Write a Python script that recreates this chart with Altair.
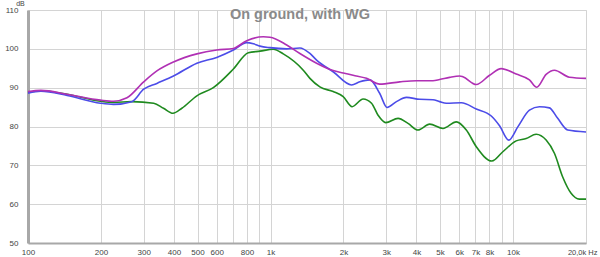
import altair as alt
import pandas as pd

# Magenta series
freq_m = [100, 113, 145, 199, 225, 256, 300, 340, 398, 497, 600, 703, 798, 934, 995,
          1166, 1322, 1549, 1813, 1994, 2191, 2489, 2822, 3412, 3996, 4677, 4983,
          5479, 6025, 6216, 7057, 8007, 8943, 10308, 11691, 12530, 13697, 14818,
          17083, 20000]
db_m = [89.0, 89.3, 88.3, 86.8, 86.5, 87.4, 91.5, 94.3, 96.6, 98.7, 99.7, 100.1, 102.1,
        103.1, 103.0, 101.0, 98.8, 96.3, 94.4, 93.8, 93.2, 92.4, 90.9, 91.5, 91.8,
        91.8, 92.1, 92.65, 93.0, 92.8, 90.8, 93.2, 94.9, 93.5, 92.0, 90.1, 93.4,
        94.5, 92.7, 92.4]

# Blue series
freq_b = [100, 113, 145, 199, 225, 268, 300, 340, 398, 497, 600, 703, 798, 850, 905,
          995, 1166, 1322, 1454, 1549, 1813, 2159, 2335, 2568, 2822, 3025, 3306,
          3636, 4123, 4677, 4983, 5310, 6122, 7057, 8137, 8800, 9610, 10466, 11691,
          12853, 14133, 15289, 16810, 20000]
db_b = [88.6, 89.1, 88.0, 86.0, 85.7, 86.4, 89.6, 91.1, 93.0, 96.3, 97.8, 99.7, 101.6,
        101.3, 100.7, 100.3, 100.0, 100.2, 98.8, 97.1, 94.1, 90.7, 91.5, 92.0, 88.5,
        84.9, 86.4, 87.5, 87.0, 86.9, 86.4, 86.0, 86.1, 84.5, 82.7, 80.2, 76.5,
        79.9, 84.2, 85.1, 84.8, 82.1, 79.1, 78.6]

# Green series
freq_g = [100, 113, 145, 199, 225, 268, 330, 362, 396, 431, 497, 581, 703, 810, 905,
          1027, 1129, 1365, 1454, 1598, 1813, 1994, 2171, 2409, 2610, 2777, 2987,
          3357, 3690, 4057, 4533, 5142, 5840, 6419, 7057, 8184, 9080, 10308, 11331,
          12460, 13697, 14818, 16031, 17360, 18777, 20000]
db_g = [88.8, 89.2, 88.3, 86.5, 86.2, 86.4, 86.0, 84.7, 83.4, 84.7, 87.9, 90.0, 94.8,
        99.0, 99.4, 99.9, 98.7, 94.5, 92.4, 90.2, 89.0, 87.7, 85.1, 87.1, 86.0,
        82.9, 81.0, 82.1, 80.8, 79.1, 80.6, 79.5, 81.2, 79.1, 74.8, 71.1, 73.5,
        76.3, 76.9, 78.0, 76.5, 73.1, 67.0, 62.8, 61.3, 61.3]

series_names = ["green", "blue", "magenta"]
series_colors = ["#1f8a1f", "#4c4ce8", "#b030b4"]

x_grid = [100, 200, 300, 400, 500, 600, 700, 800, 900, 1000,
          2000, 3000, 4000, 5000, 6000, 7000, 8000, 9000, 10000, 20000]
y_grid = [50, 60, 70, 80, 90, 100, 110]

rows = []
for name, fs, ds in zip(series_names, [freq_g, freq_b, freq_m], [db_g, db_b, db_m]):
    for i, (f, d) in enumerate(zip(fs, ds)):
        rows.append({"series": name, "order": i, "freq": f, "db": d})
df = pd.DataFrame(rows)

label_expr = (
    "datum.value == 700 || datum.value == 900 || datum.value == 9000 ? '' : "
    "(datum.value == 20000 ? '20,0k Hz' : "
    "(datum.value >= 1000 ? (datum.value / 1000) + 'k' : datum.value + ''))"
)

chart = alt.Chart(df).mark_line(strokeWidth=1.6, interpolate="monotone").encode(
    x=alt.X("freq:Q",
            scale=alt.Scale(type="log", domain=[100, 20000], nice=False, zero=False),
            axis=alt.Axis(values=x_grid, labelExpr=label_expr, title=None,
                          grid=True, gridColor="#d4d4d4", gridWidth=1,
                          ticks=False, labelPadding=5,
                          labelFontSize={"condition": {"test": "datum.value == 20000", "value": 7.5}, "value": 8},
                          labelAlign={"condition": {"test": "datum.value == 20000", "value": "right"}, "value": "center"},
                          labelOffset={"condition": {"test": "datum.value == 20000", "value": 11}, "value": 0},
                          labelColor="#444444", labelFont="Liberation Sans",
                          domainColor="#a8a8a8", domainWidth=2,
                          labelOverlap=False, labelFlush=False)),
    y=alt.Y("db:Q",
            scale=alt.Scale(domain=[50, 110], nice=False, zero=False),
            axis=alt.Axis(values=y_grid, title="dB", titleAngle=0,
                          titleX=-8, titleY=-4, titleFontSize=7,
                          titleFontWeight="normal", titleColor="#444444",
                          titleFont="Liberation Sans",
                          grid=True, gridColor="#d4d4d4", gridWidth=1,
                          ticks=False, labelPadding=10, labelFontSize=8,
                          labelColor="#444444", labelFont="Liberation Sans",
                          domainColor="#a8a8a8", domainWidth=3)),
    color=alt.Color("series:N",
                    scale=alt.Scale(domain=series_names, range=series_colors),
                    legend=None),
    order=alt.Order("order:Q"),
    detail="series:N",
).properties(
    width=558,
    height=233,
    title=alt.TitleParams(
        text="On ground, with WG", fontSize=14.5, fontWeight="bold",
        color="#8a8a8a", font="Liberation Sans", anchor="middle",
        baseline="alphabetic", offset=0, dy=34.5, dx=-7, frame="group"),
    autosize=alt.AutoSizeParams(type="none"),
    padding={"left": 28, "top": 10, "right": 14, "bottom": 14},
).configure_view(
    stroke="#b8b8b8", strokeWidth=1.5
).configure(background="white")

chart.save("out.html", embed_options={"renderer": "svg", "actions": False})
